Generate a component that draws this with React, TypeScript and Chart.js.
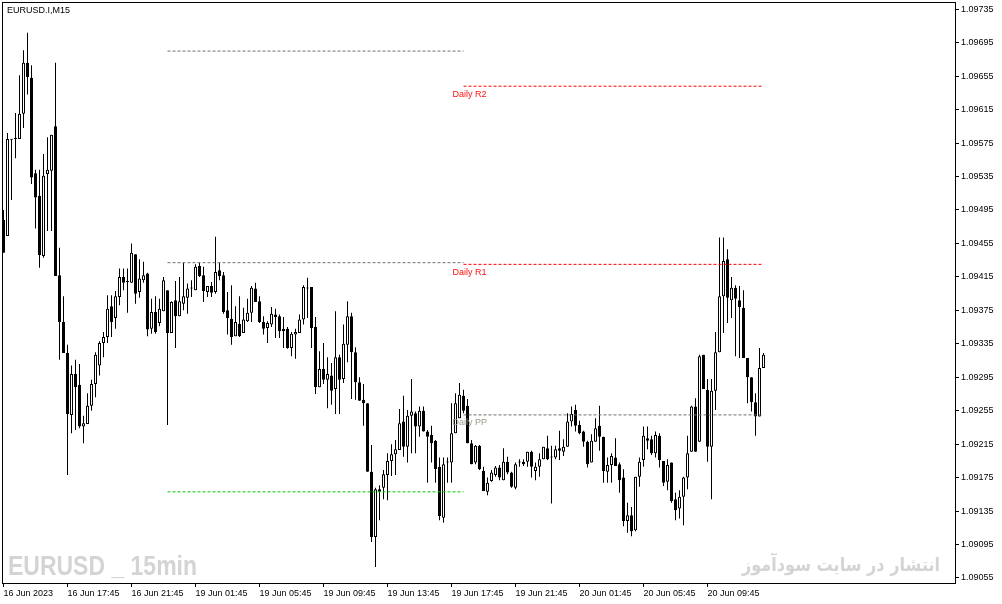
import React, { useEffect, useRef } from "react";
import { Chart, registerables } from "chart.js";

Chart.register(...registerables);

// ---- DATA (EURUSD.I, M15, 16 Jun 2023 13:45 onward) ----
const OPEN = [
  1.09483,1.09464,1.09579,1.09580,1.09580,1.09610,1.09671,1.09653,1.09539,1.09512,
  1.09440,1.09538,1.09542,1.09595,1.09417,1.09361,1.09324,1.09250,1.09299,1.09286,
  1.09236,1.09239,1.09261,1.09287,1.09309,1.09336,1.09343,1.09380,1.09366,1.09391,
  1.09415,1.09409,1.09408,1.09442,1.09397,1.09411,1.09419,1.09353,1.09373,1.09360,
  1.09374,1.09399,1.09348,1.09387,1.09368,1.09383,1.09390,1.09401,1.09399,1.09428,
  1.09417,1.09397,1.09404,1.09397,1.09423,1.09417,1.09375,1.09365,1.09344,1.09359,
  1.09348,1.09362,1.09372,1.09401,1.09386,1.09361,1.09354,1.09358,1.09370,1.09368,
  1.09353,1.09353,1.09330,1.09346,1.09348,1.09364,1.09402,1.09403,1.09355,1.09283,
  1.09305,1.09292,1.09297,1.09281,1.09319,1.09293,1.09334,1.09368,1.09325,1.09289,
  1.09268,1.09264,1.09182,1.09104,1.09161,1.09163,1.09178,1.09195,1.09203,1.09208,
  1.09242,1.09212,1.09249,1.09252,1.09236,1.09255,1.09230,1.09226,1.09219,1.09188,
  1.09127,1.09193,1.09193,1.09228,1.09246,1.09273,1.09261,1.09216,1.09193,1.09213,
  1.09183,1.09158,1.09171,1.09178,1.09187,1.09172,1.09194,1.09181,1.09163,1.09193,
  1.09194,1.09194,1.09206,1.09183,1.09188,1.09197,1.09210,1.09200,1.09199,1.09210,
  1.09206,1.09212,1.09242,1.09256,1.09238,1.09230,1.09218,1.09193,1.09218,1.09237,
  1.09224,1.09182,1.09190,1.09199,1.09191,1.09175,1.09123,1.09130,1.09112,1.09176,
  1.09196,1.09222,1.09221,1.09204,1.09225,1.09195,1.09170,1.09193,1.09149,1.09138,
  1.09152,1.09175,1.09206,1.09260,1.09218,1.09322,1.09280,1.09212,1.09279,1.09325,
  1.09392,1.09436,1.09387,1.09402,1.09387,1.09378,1.09318,1.09295,1.09265,1.09248,
  1.09306,
];

const HIGH = [
  1.09495,1.09587,1.09580,1.09611,1.09656,1.09686,1.09707,1.09668,1.09543,1.09543,
  1.09562,1.09582,1.09585,1.09671,1.09450,1.09392,1.09334,1.09309,1.09316,1.09311,
  1.09249,1.09276,1.09292,1.09325,1.09338,1.09349,1.09393,1.09393,1.09398,1.09425,
  1.09425,1.09425,1.09455,1.09442,1.09436,1.09433,1.09420,1.09389,1.09392,1.09389,
  1.09415,1.09399,1.09386,1.09410,1.09415,1.09432,1.09407,1.09411,1.09430,1.09432,
  1.09427,1.09404,1.09409,1.09463,1.09432,1.09421,1.09397,1.09405,1.09380,1.09392,
  1.09378,1.09389,1.09404,1.09408,1.09392,1.09368,1.09362,1.09379,1.09377,1.09370,
  1.09367,1.09355,1.09349,1.09353,1.09370,1.09405,1.09414,1.09403,1.09367,1.09326,
  1.09336,1.09319,1.09312,1.09374,1.09322,1.09358,1.09386,1.09372,1.09331,1.09295,
  1.09287,1.09264,1.09214,1.09163,1.09166,1.09184,1.09204,1.09215,1.09220,1.09257,
  1.09273,1.09256,1.09293,1.09254,1.09260,1.09260,1.09232,1.09237,1.09220,1.09199,
  1.09199,1.09199,1.09264,1.09276,1.09288,1.09280,1.09269,1.09220,1.09214,1.09214,
  1.09188,1.09175,1.09184,1.09189,1.09190,1.09210,1.09200,1.09182,1.09193,1.09197,
  1.09197,1.09206,1.09207,1.09193,1.09204,1.09212,1.09225,1.09213,1.09213,1.09231,
  1.09221,1.09252,1.09260,1.09262,1.09243,1.09231,1.09219,1.09227,1.09246,1.09261,
  1.09224,1.09199,1.09204,1.09222,1.09193,1.09185,1.09145,1.09140,1.09176,1.09199,
  1.09236,1.09236,1.09225,1.09230,1.09228,1.09195,1.09197,1.09193,1.09157,1.09160,
  1.09176,1.09225,1.09261,1.09270,1.09322,1.09322,1.09293,1.09293,1.09349,1.09462,
  1.09462,1.09448,1.09415,1.09405,1.09404,1.09399,1.09318,1.09295,1.09276,1.09330,
  1.09324,
];

const LOW = [
  1.09444,1.09464,1.09507,1.09557,1.09580,1.09593,1.09633,1.09526,1.09473,1.09426,
  1.09438,1.09470,1.09470,1.09416,1.09316,1.09324,1.09178,1.09228,1.09232,1.09234,
  1.09216,1.09239,1.09255,1.09271,1.09297,1.09319,1.09336,1.09343,1.09353,1.09381,
  1.09399,1.09372,1.09408,1.09383,1.09390,1.09408,1.09344,1.09347,1.09347,1.09356,
  1.09374,1.09238,1.09348,1.09330,1.09368,1.09375,1.09371,1.09391,1.09399,1.09415,
  1.09385,1.09391,1.09391,1.09395,1.09411,1.09371,1.09346,1.09334,1.09344,1.09343,
  1.09348,1.09361,1.09361,1.09385,1.09360,1.09346,1.09336,1.09355,1.09342,1.09342,
  1.09330,1.09329,1.09320,1.09317,1.09348,1.09358,1.09366,1.09330,1.09275,1.09283,
  1.09287,1.09258,1.09262,1.09251,1.09251,1.09288,1.09313,1.09269,1.09268,1.09267,
  1.09237,1.09182,1.09098,1.09068,1.09124,1.09149,1.09148,1.09177,1.09178,1.09208,
  1.09200,1.09193,1.09204,1.09204,1.09224,1.09230,1.09169,1.09193,1.09169,1.09124,
  1.09121,1.09169,1.09169,1.09228,1.09246,1.09252,1.09216,1.09191,1.09191,1.09184,
  1.09159,1.09154,1.09170,1.09176,1.09172,1.09172,1.09179,1.09163,1.09161,1.09188,
  1.09189,1.09188,1.09175,1.09172,1.09176,1.09197,1.09196,1.09144,1.09197,1.09196,
  1.09201,1.09212,1.09236,1.09230,1.09227,1.09212,1.09187,1.09193,1.09218,1.09207,
  1.09169,1.09169,1.09169,1.09189,1.09157,1.09117,1.09109,1.09105,1.09111,1.09164,
  1.09188,1.09209,1.09202,1.09199,1.09187,1.09165,1.09160,1.09145,1.09124,1.09126,
  1.09118,1.09161,1.09206,1.09206,1.09218,1.09281,1.09194,1.09149,1.09256,1.09325,
  1.09348,1.09360,1.09366,1.09320,1.09318,1.09318,1.09264,1.09254,1.09225,1.09248,
  1.09306,
];

const CLOSE = [
  1.09444,1.09580,1.09580,1.09581,1.09610,1.09671,1.09654,1.09534,1.09510,1.09441,
  1.09536,1.09543,1.09585,1.09416,1.09361,1.09324,1.09251,1.09299,1.09283,1.09236,
  1.09240,1.09261,1.09287,1.09322,1.09336,1.09343,1.09377,1.09361,1.09392,1.09415,
  1.09408,1.09410,1.09444,1.09395,1.09413,1.09417,1.09352,1.09373,1.09349,1.09377,
  1.09411,1.09348,1.09385,1.09368,1.09386,1.09392,1.09401,1.09402,1.09427,1.09416,
  1.09398,1.09404,1.09396,1.09421,1.09416,1.09373,1.09366,1.09343,1.09361,1.09344,
  1.09364,1.09372,1.09402,1.09385,1.09361,1.09353,1.09360,1.09371,1.09367,1.09350,
  1.09350,1.09330,1.09347,1.09349,1.09364,1.09403,1.09401,1.09354,1.09283,1.09305,
  1.09292,1.09299,1.09279,1.09319,1.09292,1.09335,1.09368,1.09325,1.09289,1.09267,
  1.09264,1.09182,1.09104,1.09161,1.09158,1.09179,1.09195,1.09203,1.09209,1.09240,
  1.09212,1.09249,1.09254,1.09236,1.09255,1.09230,1.09224,1.09216,1.09185,1.09129,
  1.09191,1.09194,1.09228,1.09264,1.09274,1.09255,1.09216,1.09191,1.09213,1.09185,
  1.09159,1.09169,1.09181,1.09187,1.09175,1.09194,1.09181,1.09164,1.09191,1.09194,
  1.09191,1.09206,1.09188,1.09188,1.09197,1.09212,1.09197,1.09199,1.09209,1.09207,
  1.09212,1.09242,1.09251,1.09237,1.09228,1.09218,1.09191,1.09219,1.09234,1.09224,
  1.09183,1.09190,1.09201,1.09189,1.09172,1.09123,1.09130,1.09111,1.09176,1.09194,
  1.09225,1.09219,1.09204,1.09226,1.09196,1.09169,1.09190,1.09147,1.09136,1.09152,
  1.09175,1.09204,1.09260,1.09206,1.09320,1.09281,1.09212,1.09279,1.09325,1.09392,
  1.09434,1.09390,1.09402,1.09389,1.09379,1.09318,1.09295,1.09265,1.09248,1.09306,
  1.09322,
];

const TIME_TICK_INDEX = [0, 16, 32, 48, 64, 80, 96, 112, 128, 144, 160, 176];
const TIME_TICK_LABELS = [
  "16 Jun 2023", "16 Jun 17:45", "16 Jun 21:45", "19 Jun 01:45",
  "19 Jun 05:45", "19 Jun 09:45", "19 Jun 13:45", "19 Jun 17:45",
  "19 Jun 21:45", "20 Jun 01:45", "20 Jun 05:45", "20 Jun 09:45",
];

const PRICE_TICKS = [
  1.09055, 1.09095, 1.09135, 1.09175, 1.09215, 1.09255, 1.09295, 1.09335, 1.09375,
  1.09415, 1.09455, 1.09495, 1.09535, 1.09575, 1.09615, 1.09655, 1.09695, 1.09735,
];

// Pivot levels
const PREV_RANGE = [41, 115];
const PREV_LEVELS = [1.09685, 1.09432, 1.09158];
const PREV_COLORS = ["#6e6e6e", "#6e6e6e", "#00c800"];
const DAY_RANGE = [115, 190];
const DAY_LEVEL_NAMES = ["Daily R2", "Daily R1", "Daily PP"];
const DAY_LEVELS = [1.09643, 1.09430, 1.09250];
const DAY_COLORS = ["#ff0000", "#ff0000", "#6e6e6e"];
const DAY_LABEL_COLORS = ["#ff1010", "#ff1010", "#9a9a8a"];

const TITLE = "EURUSD.I,M15";
const WATERMARK_LEFT = "EURUSD _ 15min";
const WATERMARK_RIGHT = "انتشار در سایت سودآموز";

const AXIS_FONT = '"Liberation Sans", Arial, sans-serif';

export default function App() {
  const ref = useRef<HTMLCanvasElement | null>(null);

  useEffect(() => {
    const canvas = ref.current;
    if (!canvas) return;
    const idx = OPEN.map((_, i) => i);
    const wickData = idx.map((i) => ({ x: i, y: [LOW[i], HIGH[i]] }));
    const bodyData = idx.map((i) => ({ x: i, y: [OPEN[i], CLOSE[i]] }));
    const bodyBg = idx.map((i) => (CLOSE[i] >= OPEN[i] ? "#ffffff" : "#000000"));

    const lineSets: any[] = [];
    PREV_LEVELS.forEach((v, k) => {
      lineSets.push({
        type: "line",
        data: [{ x: PREV_RANGE[0], y: v }, { x: PREV_RANGE[1], y: v }],
        borderColor: PREV_COLORS[k],
        borderWidth: 1,
        borderDash: [3, 2],
        pointRadius: 0,
        order: 0,
      });
    });
    DAY_LEVELS.forEach((v, k) => {
      lineSets.push({
        type: "line",
        data: [{ x: DAY_RANGE[0], y: v }, { x: DAY_RANGE[1], y: v }],
        borderColor: DAY_COLORS[k],
        borderWidth: 1,
        borderDash: [3, 2],
        pointRadius: 0,
        order: 0,
      });
    });

    const overlay = {
      id: "overlay",
      beforeDatasetsDraw(chart: any) {
        const ctx = chart.ctx as CanvasRenderingContext2D;
        ctx.save();
        ctx.fillStyle = "#d4d4d4";
        ctx.textBaseline = "alphabetic";
        ctx.font = 'bold 27px "Liberation Sans", Arial, sans-serif';
        const wl = ctx.measureText(WATERMARK_LEFT).width;
        ctx.save();
        ctx.translate(8, 575);
        ctx.scale(189 / wl, 1);
        ctx.textAlign = "left";
        ctx.fillText(WATERMARK_LEFT, 0, 0);
        ctx.restore();
        ctx.font = 'bold 19px "DejaVu Sans", sans-serif';
        const wr = ctx.measureText(WATERMARK_RIGHT).width;
        ctx.save();
        ctx.translate(742, 571);
        ctx.scale(198 / wr, 1);
        ctx.textAlign = "left";
        ctx.fillText(WATERMARK_RIGHT, 0, 0);
        ctx.restore();
        ctx.restore();
      },
      afterDraw(chart: any) {
        const ctx = chart.ctx as CanvasRenderingContext2D;
        const a = chart.chartArea;
        const xs = chart.scales.x;
        const ys = chart.scales.y;
        ctx.save();
        ctx.strokeStyle = "#000";
        ctx.lineWidth = 1;
        ctx.strokeRect(a.left + 0.5, a.top + 0.5, a.right - a.left, a.bottom - a.top);
        ctx.fillStyle = "#000";
        ctx.font = "9px " + AXIS_FONT;
        ctx.textBaseline = "middle";
        ctx.textAlign = "left";
        ctx.fillText(TITLE, 7, 11);
        DAY_LEVELS.forEach((v, k) => {
          ctx.fillStyle = DAY_LABEL_COLORS[k];
          const px = xs.getPixelForValue(DAY_RANGE[0]) - 11;
          const py = ys.getPixelForValue(v) + 8;
          ctx.fillText(DAY_LEVEL_NAMES[k], px, py);
        });
        ctx.restore();
      },
    };

    const chart = new Chart(canvas, {
      type: "bar",
      data: {
        datasets: [
          {
            type: "bar",
            data: wickData as any,
            backgroundColor: "#000000",
            borderWidth: 0,
            barThickness: 1,
            grouped: false,
            inflateAmount: 0,
            order: 2,
          } as any,
          {
            type: "bar",
            data: bodyData as any,
            backgroundColor: bodyBg,
            borderColor: "#000000",
            borderWidth: 1,
            borderSkipped: false,
            barThickness: 3,
            grouped: false,
            minBarLength: 1,
            inflateAmount: 0,
            order: 1,
          } as any,
          ...lineSets,
        ],
      },
      options: {
        animation: false,
        responsive: false,
        devicePixelRatio: 1,
        events: [],
        layout: { padding: { left: 2, top: 2, right: 0, bottom: 0 } },
        plugins: { legend: { display: false }, tooltip: { enabled: false }, title: { display: false } },
        scales: {
          x: {
            type: "linear",
            position: "bottom",
            offset: false,
            min: -0.375,
            max: 237.875,
            afterBuildTicks: (s: any) => {
              s.ticks = TIME_TICK_INDEX.map((v) => ({ value: v }));
            },
            afterFit: (s: any) => {
              s.height = 21;
              s.paddingLeft = 0;
              s.paddingRight = 0;
            },
            ticks: {
              autoSkip: false,
              maxRotation: 0,
              minRotation: 0,
              align: "start",
              padding: 1,
              color: "#000",
              font: { family: AXIS_FONT, size: 9 },
              callback: (v: any) => {
                const k = TIME_TICK_INDEX.indexOf(Number(v));
                return k >= 0 ? TIME_TICK_LABELS[k] : "";
              },
            },
            grid: { offset: false, drawOnChartArea: false, drawTicks: true, tickLength: 4, color: "#000" },
            border: { display: true, color: "#000", width: 1 },
          },
          y: {
            type: "linear",
            position: "right",
            min: 1.09049,
            max: 1.097437,
            afterBuildTicks: (s: any) => {
              s.ticks = PRICE_TICKS.map((v) => ({ value: v }));
            },
            afterFit: (s: any) => {
              s.width = 47;
              s.paddingTop = 0;
              s.paddingBottom = 0;
            },
            ticks: {
              autoSkip: false,
              padding: 2,
              color: "#000",
              font: { family: AXIS_FONT, size: 9 },
              callback: (v: any) => Number(v).toFixed(5),
            },
            grid: { drawOnChartArea: false, drawTicks: true, tickLength: 4, color: "#000" },
            border: { display: true, color: "#000", width: 1 },
          },
        },
      } as any,
      plugins: [overlay],
    });
    return () => chart.destroy();
  }, []);

  return (
    <div style={{ position: "fixed", left: 0, top: 0, width: 1002, height: 604, background: "#fff" }}>
      <canvas ref={ref} width={1002} height={604} style={{ display: "block", width: 1002, height: 604 }} />
    </div>
  );
}
